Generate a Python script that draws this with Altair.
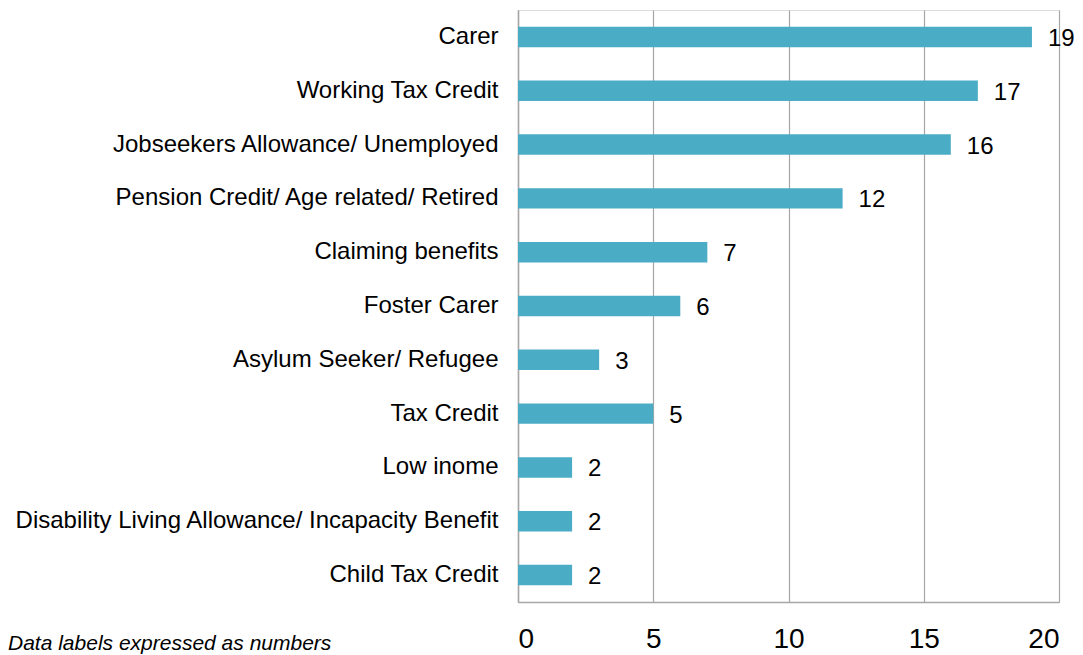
import altair as alt
import pandas as pd

categories = [
    "Carer",
    "Working Tax Credit",
    "Jobseekers Allowance/ Unemployed",
    "Pension Credit/ Age related/ Retired",
    "Claiming benefits",
    "Foster Carer",
    "Asylum Seeker/ Refugee",
    "Tax Credit\u00a0",
    "Low inome\u00a0",
    "Disability Living Allowance/ Incapacity Benefit",
    "Child Tax Credit",
]
values = [19, 17, 16, 12, 7, 6, 3, 5, 2, 2, 2]
x_ticks = [0, 5, 10, 15, 20]
footnote = "Data labels expressed as numbers"

df = pd.DataFrame({"category": categories, "value": values})

FONT = "Liberation Sans"
BAR = "#4BACC6"
GRID = "#A6A6A6"

y_enc = alt.Y(
    "category:N",
    sort=categories,
    title=None,
    scale=alt.Scale(paddingInner=0.62, paddingOuter=0.31),
    axis=alt.Axis(
        labelFont=FONT, labelFontSize=24, labelColor="#000000",
        labelPadding=20, ticks=False, domainColor=GRID, domainWidth=1.5,
        labelLimit=600,
    ),
)
x_enc = alt.X(
    "value:Q",
    title=None,
    scale=alt.Scale(domain=[0, 20], nice=False),
    axis=alt.Axis(
        values=x_ticks, labelFont=FONT, labelFontSize=28, labelColor="#000000",
        labelPadding=23, ticks=False, domainColor=GRID, domainWidth=1.5,
        grid=True, gridColor=GRID, gridWidth=1.2,
    ),
)

bars = alt.Chart(df).mark_bar(color=BAR).encode(x=x_enc, y=y_enc)

labels = alt.Chart(df).mark_text(
    align="left", baseline="middle", dx=16, dy=2, font=FONT, fontSize=24, color="#000000"
).encode(
    x=alt.X("value:Q"),
    y=alt.Y("category:N", sort=categories),
    text=alt.Text("value:Q"),
)

note = alt.Chart(pd.DataFrame({"t": [footnote]})).mark_text(
    align="left", baseline="alphabetic", font=FONT, fontSize=21, fontStyle="italic", color="#000000"
).encode(
    x=alt.value(-510),
    y=alt.value(640),
    text="t:N",
)

chart = (
    alt.layer(bars, labels, note)
    .properties(
        width=541,
        height=592,
        autosize=alt.AutoSizeParams(type="none"),
        padding={"left": 510, "top": 2, "right": 16, "bottom": 53},
    )
    .configure_view(stroke=None)
    .configure(background="#FFFFFF")
)

chart.save("out.html", embed_options={"renderer": "svg", "actions": False})
